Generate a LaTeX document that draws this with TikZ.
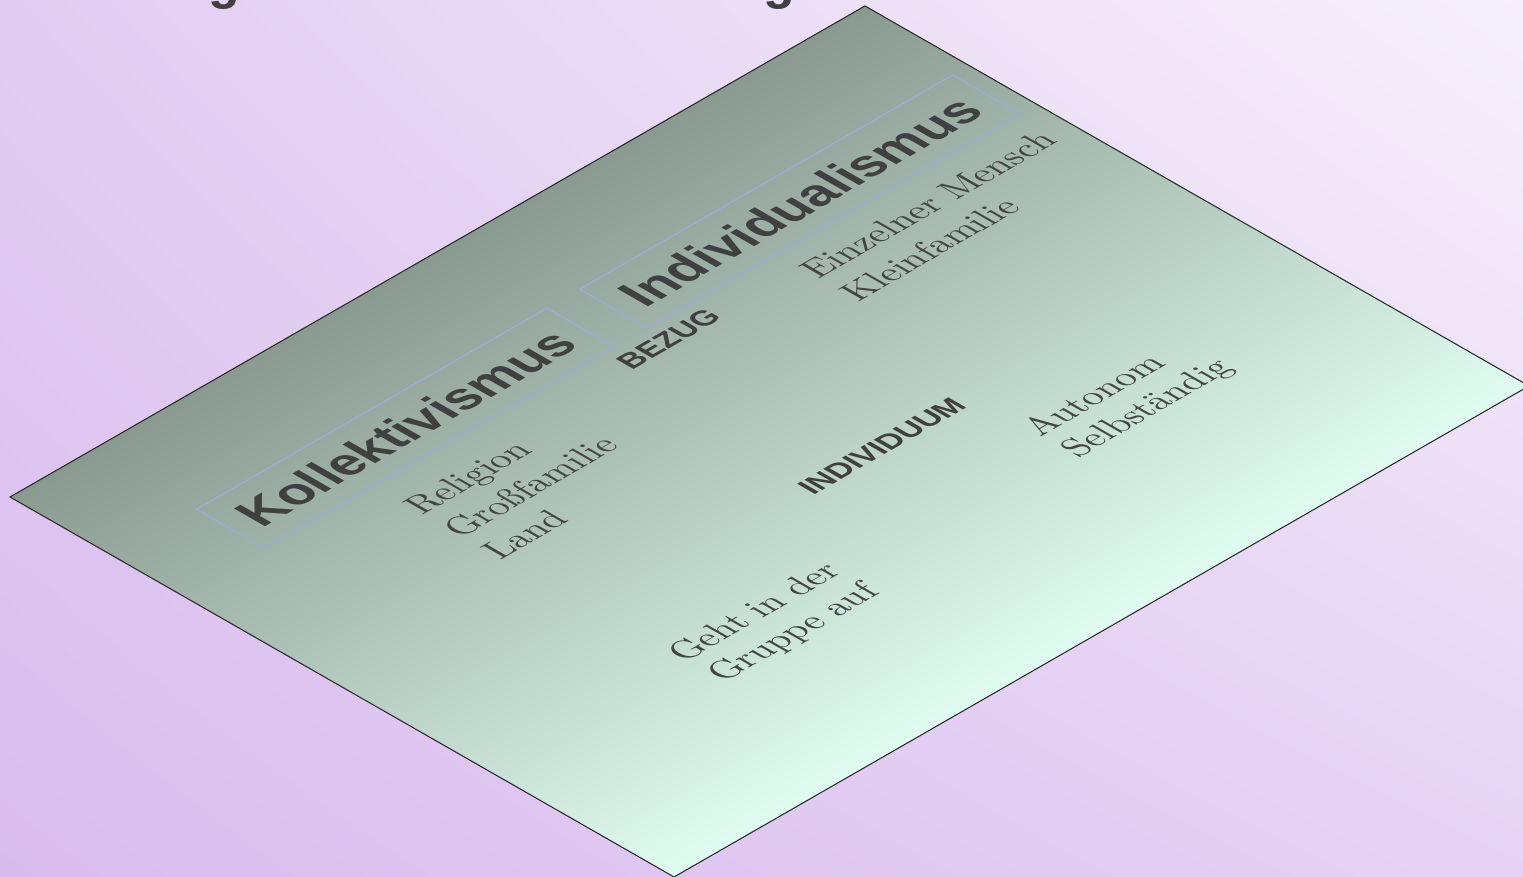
\documentclass[tikz,border=0pt]{standalone}
\usepackage{fontspec}
\usetikzlibrary{shadings}
\newfontfamily\arialfont{Liberation Sans}
\newfontfamily\lmten{lmroman10-regular.otf}
\definecolor{bgUL}{HTML}{E2CDF2}
\definecolor{bgUR}{HTML}{F6F0FB}
\definecolor{bgLL}{HTML}{D9BCEE}
\definecolor{bgLR}{HTML}{E6D3F4}
\definecolor{planetop}{HTML}{8A9A90}
\definecolor{planebot}{HTML}{E0FCF0}
\definecolor{boxblue}{HTML}{A0A8E6}
\definecolor{textdark}{HTML}{404040}
\definecolor{textserif}{HTML}{444444}
\begin{document}
\begin{tikzpicture}[x=1pt,y=1pt,
  planeedge/.style={draw=black!85, line width=1.2pt},
  keybox/.style={draw=boxblue, line width=1.1pt, inner sep=0pt, text=textdark,
    font=\arialfont\bfseries\fontsize{52}{60}\selectfont},
  caplabel/.style={inner sep=0pt, text=textdark, font=\arialfont\bfseries\fontsize{30}{36}\selectfont},
  serifline/.style={inner sep=0pt, anchor=base west, text=textserif, font=\lmten\fontsize{36}{44}\selectfont},
  titleg/.style={inner sep=0pt, anchor=base west, text=textdark, font=\arialfont\bfseries\fontsize{52}{60}\selectfont}]
\useasboundingbox (0,0) rectangle (1523,876);
\shade[upper left=bgUL, upper right=bgUR, lower left=bgLL, lower right=bgLR] (0,0) rectangle (1523,876);
\begin{scope}
  \clip (0,0) rectangle (1523,876);
  \node[titleg] (g1) at (208,877) {g};
  \node[titleg] (g2) at (763,877) {g};
\end{scope}
\begin{scope}[transform canvas={cm={0.8671,0.4980,-0.8680,0.4967,(10,379)}}]
  \shade[top color=planetop, bottom color=planebot] (0,0) rectangle (986,-765);
  \draw[planeedge] (0,0) rectangle (986,-765);
  \node[keybox, minimum width=404pt, minimum height=78pt] (koll) at (297,-159) {Kollektivismus};
  \node[keybox, minimum width=430pt, minimum height=78pt] (indiv) at (752,-159) {Individualismus};
  \node[caplabel] (bezug) at (538,-221) {BEZUG};
  \node[caplabel] (individuum) at (553,-452) {INDIVIDUUM};
  \node[serifline] (rel) at (218,-257) {Religion};
  \node[serifline] (gross) at (218,-302) {Großfamilie};
  \node[serifline] (land) at (218,-347) {Land};
  \node[serifline] (einz) at (684,-248) {Einzelner Mensch};
  \node[serifline] (klein) at (684,-294) {Kleinfamilie};
  \node[serifline] (auto) at (653,-535) {Autonom};
  \node[serifline] (selb) at (653,-578) {Selbständig};
  \node[serifline] (geht) at (222,-556) {Geht in der};
  \node[serifline] (grup) at (224,-599) {Gruppe auf};
\end{scope}
\end{tikzpicture}
\end{document}
